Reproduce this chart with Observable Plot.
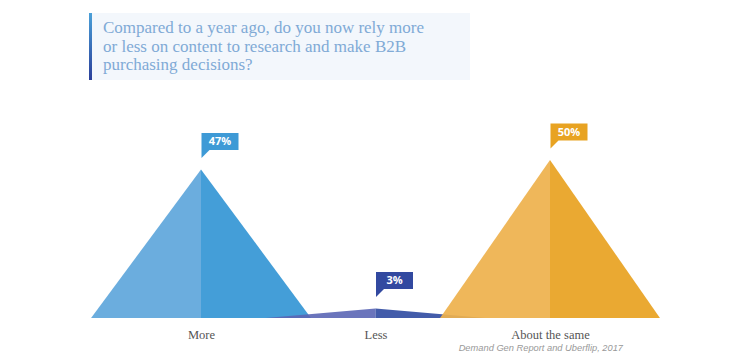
<!DOCTYPE html>
<html><head><meta charset="utf-8">
<script src="https://cdn.jsdelivr.net/npm/d3@7"></script>
<script src="https://cdn.jsdelivr.net/npm/@observablehq/plot@0.6"></script>
<style>
body{margin:0;background:#fff;}
#wrap{position:relative;width:750px;height:354px;overflow:hidden;background:#fff;}
#tbox{position:absolute;left:89px;top:13px;width:381px;height:67px;background:#f3f7fc;}
#tbar{position:absolute;left:89px;top:13px;width:3px;height:67px;background:linear-gradient(#4aa0d8,#2a3f9a);}
#title{position:absolute;left:103px;top:19px;font-family:"Liberation Serif",serif;font-size:17px;line-height:18.5px;color:#80aad6;white-space:nowrap;}
#src{position:absolute;right:127px;top:343px;font-family:"Liberation Sans",Arial,sans-serif;font-style:italic;font-size:9.3px;color:#999;white-space:nowrap;}
#chart{position:absolute;left:0;top:0;}
</style></head>
<body>
<div id="wrap">
  <div id="chart"></div>
  <div id="tbox"></div>
  <div id="tbar"></div>
  <div id="title">Compared to a year ago, do you now rely more<br>or less on content to research and make B2B<br>purchasing decisions?</div>
  <div id="src">Demand Gen Report and Uberflip, 2017</div>
</div>
<script>
const categories = ["More", "Less", "About the same"];
const values = [47, 3, 50];
const valueLabels = ["47%", "3%", "50%"];
const leftColors = ["#6badde", "#5b66b5", "#eeb24e"];
const rightColors = ["#449ed8", "#2f4aa1", "#e8a322"];
const calloutColors = ["#3e9ad6", "#3249a0", "#e8a322"];
const halfWidth = 0.63;

const halves = [];
categories.forEach((c, i) => {
  halves.push({cat: i, id: c + "-L", x: i - halfWidth, y: 0, fill: leftColors[i]});
  halves.push({cat: i, id: c + "-L", x: i, y: values[i], fill: leftColors[i]});
  halves.push({cat: i, id: c + "-R", x: i, y: values[i], fill: rightColors[i]});
  halves.push({cat: i, id: c + "-R", x: i + halfWidth, y: 0, fill: rightColors[i]});
});
const points = categories.map((c, i) => ({i, c, v: values[i], label: valueLabels[i], color: calloutColors[i]}));

const callout = {
  draw(ctx) {
    ctx.moveTo(0, -12);
    ctx.lineTo(0, -37);
    ctx.lineTo(37, -37);
    ctx.lineTo(37, -20);
    ctx.lineTo(8, -20);
    ctx.closePath();
  }
};

const more = halves.filter(d => d.cat === 0);
const less = halves.filter(d => d.cat === 1);
const same = halves.filter(d => d.cat === 2);

const chart = Plot.plot({
  width: 750,
  height: 354,
  x: {domain: [0, 2], range: [201, 550], axis: null},
  y: {domain: [0, 50], range: [318, 160], axis: null},
  color: {type: "identity"},
  style: {background: "transparent"},
  marks: [
    Plot.area(more, {x1: "x", y1: 0, y2: "y", z: "id", fill: "fill"}),
    Plot.area(less, {x1: "x", y1: 0, y2: "y", z: "id", fill: "fill", fillOpacity: 0.9}),
    Plot.area(same, {x1: "x", y1: 0, y2: "y", z: "id", fill: "fill", fillOpacity: 0.93}),
    Plot.dot(points, {x: "i", y: "v", r: 5, symbol: callout, fill: "color", stroke: null}),
    Plot.text(points, {x: "i", y: "v", text: "label", dx: 18.5, dy: -28.5, fill: "white", fontWeight: "bold", fontSize: 11, fontFamily: "Open Sans, sans-serif"}),
    Plot.text(points, {x: "i", y: 0, text: "c", dy: 16, fill: "#555", fontSize: 12.5, fontFamily: "Liberation Serif, serif"})
  ]
});
document.getElementById("chart").appendChild(chart);
</script>
</body></html>
